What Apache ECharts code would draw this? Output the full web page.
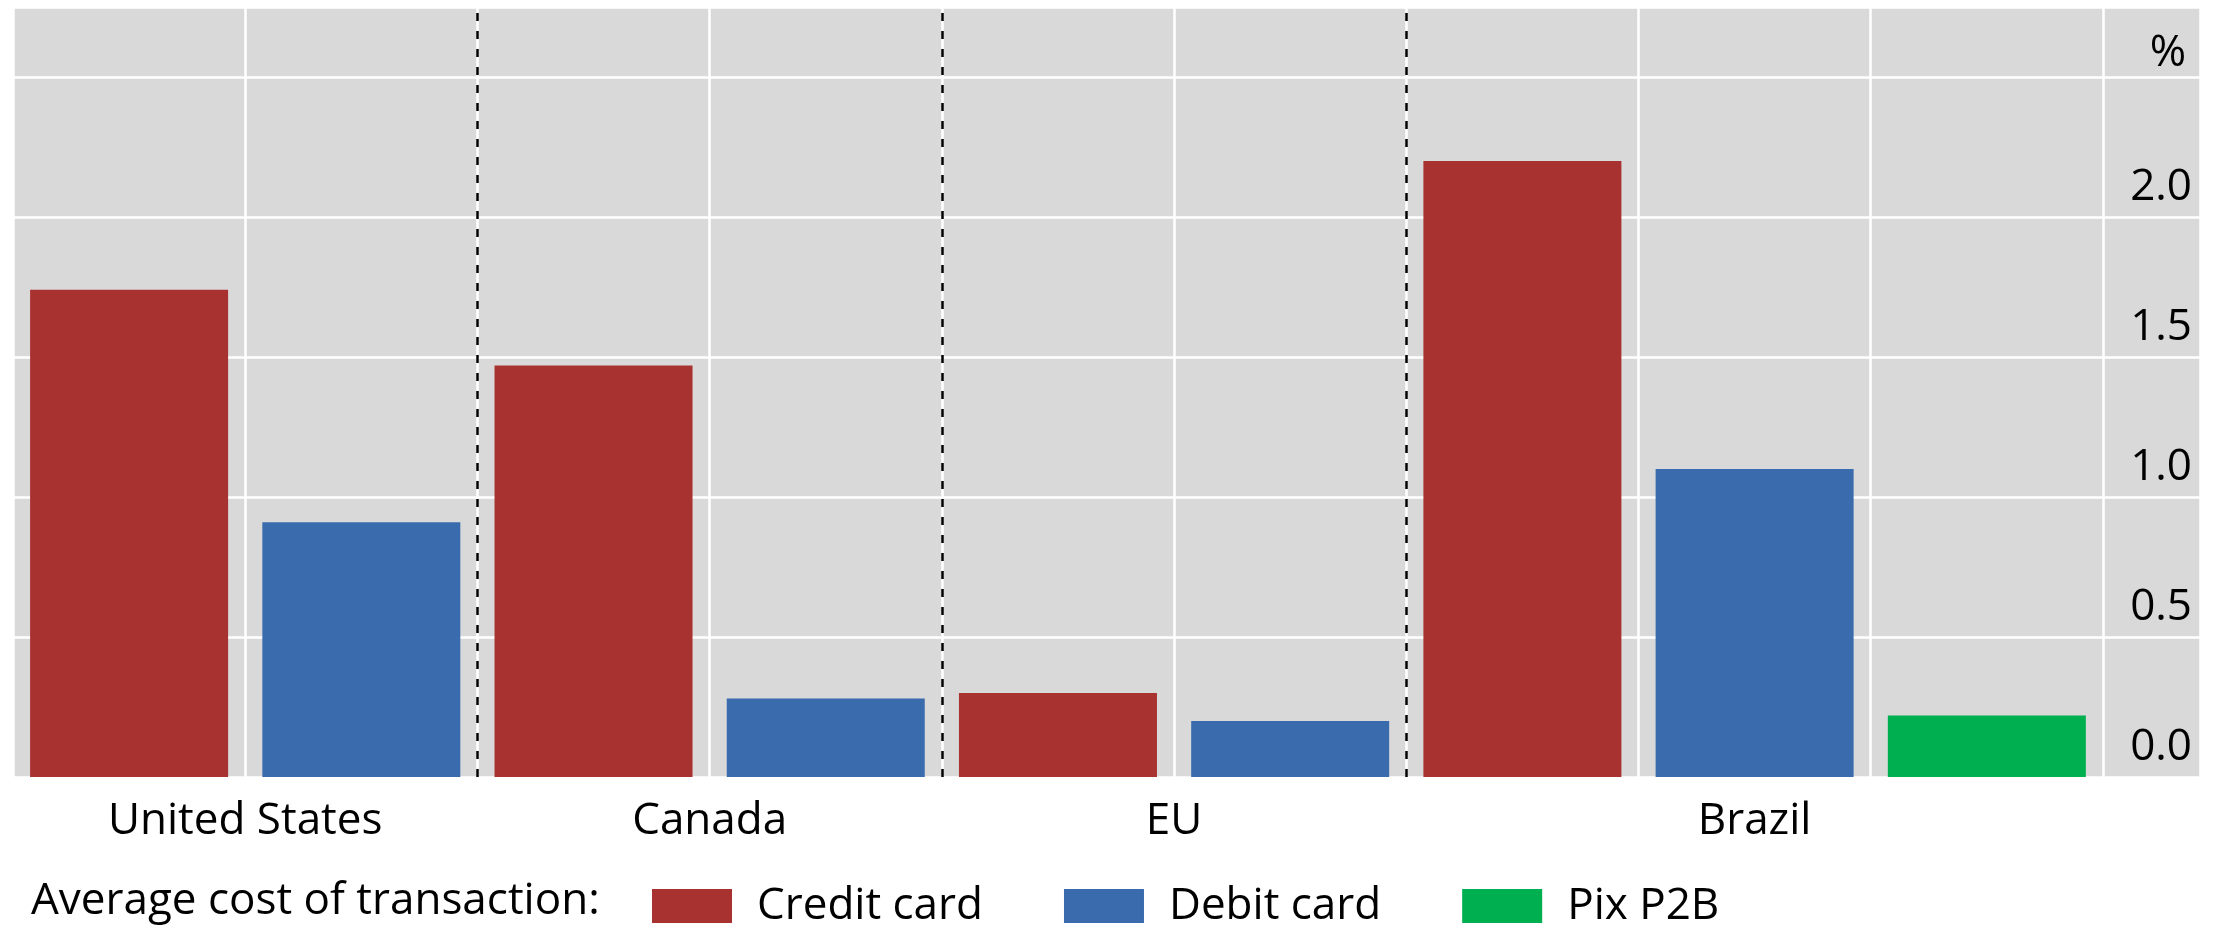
<!DOCTYPE html>
<html>
<head>
<meta charset="utf-8">
<script src="https://cdn.jsdelivr.net/npm/echarts@6/dist/echarts.min.js"></script>
<style>
  html, body { margin: 0; padding: 0; background: #ffffff; }
  #chart { width: 2218px; height: 930px; }
</style>
</head>
<body>
<div id="chart"></div>
<script>
// Average cost of a transaction by payment instrument, per jurisdiction (%)
const countries = ['United States', 'Canada', 'EU', 'Brazil'];
const creditCard = [1.74, 1.47, 0.30, 2.20];
const debitCard = [0.91, 0.28, 0.20, 1.10];
const pixP2B = [null, null, null, 0.22];
const seriesNames = ['Credit card', 'Debit card', 'Pix P2B'];
const yTickLabels = ['0.0', '0.5', '1.0', '1.5', '2.0', '%'];
const legendPrefix = 'Average cost of transaction:';

const FONT = '"Open Sans", "Noto Sans", sans-serif';
const COLORS = ['#A83230', '#3A6BAC', '#00AF50'];

// Lay the bars out in consecutive slots of width 1; each country occupies
// as many slots as it has instruments. Bars sit in the middle of their slot.
const creditData = [];
const debitData = [];
const pixData = [];
const groupCenters = [];
const separators = [];
let slot = 0;
countries.forEach((c, i) => {
  const start = slot;
  [[creditCard, creditData], [debitCard, debitData], [pixP2B, pixData]].forEach(([src, dst]) => {
    if (src[i] != null) {
      dst.push([slot + 0.5, src[i]]);
      slot += 1;
    }
  });
  groupCenters.push((start + slot) / 2);
  if (i < countries.length - 1) separators.push(slot);
});
// extra room on the right for the value labels
const xMax = slot + 0.418;

const chart = echarts.init(document.getElementById('chart'), null, { renderer: 'canvas' });

const labelToken = { color: '#000000', fontFamily: FONT, fontSize: 44 };

const option = {
  backgroundColor: '#ffffff',
  animation: false,
  textStyle: { fontFamily: FONT },
  grid: {
    left: 13, right: 18, top: 7, bottom: 153,
    show: true, backgroundColor: '#D9D9D9', borderWidth: 0
  },
  xAxis: {
    type: 'value',
    min: 0,
    max: xMax,
    interval: 1,
    axisLine: { show: false },
    axisTick: { show: false },
    splitLine: { show: true, lineStyle: { color: '#ffffff', width: 2.5 } },
    axisLabel: {
      customValues: groupCenters,
      formatter: (v) => {
        const idx = groupCenters.findIndex(g => Math.abs(g - v) < 1e-6);
        return idx >= 0 ? countries[idx] : '';
      },
      color: '#000000',
      fontFamily: FONT,
      fontSize: 44,
      lineHeight: 44,
      margin: 22
    }
  },
  yAxis: {
    type: 'value',
    position: 'right',
    min: 0,
    max: 2.75,
    interval: 0.5,
    axisLine: { show: false },
    axisTick: { show: false },
    splitLine: { show: true, lineStyle: { color: '#ffffff', width: 2.5 } },
    axisLabel: {
      inside: true,
      margin: 8,
      color: '#000000',
      fontFamily: FONT,
      fontSize: 44,
      verticalAlign: 'bottom',
      formatter: (v) => {
        const k = Math.round(v / 0.5);
        if (Math.abs(k * 0.5 - v) > 1e-6) return '';
        const t = yTickLabels[k];
        if (t == null) return '';
        return t === '%' ? '{unit|%}' : '{num|' + t + '}';
      },
      rich: {
        num: Object.assign({ lineHeight: 60 }, labelToken),
        unit: Object.assign({ lineHeight: 60, padding: [0, 6, -12, 0] }, labelToken)
      }
    }
  },
  legend: {
    data: seriesNames,
    left: 647,
    top: 879,
    icon: 'rect',
    itemWidth: 80,
    itemHeight: 34,
    itemGap: 81,
    textStyle: {
      color: '#000000',
      fontFamily: FONT,
      fontSize: 44,
      lineHeight: 44,
      padding: [0, 0, 0, 20]
    }
  },
  graphic: [{
    type: 'text',
    x: 31,
    y: 901,
    style: {
      text: legendPrefix,
      fill: '#000000',
      font: '44px ' + FONT,
      verticalAlign: 'middle',
      align: 'left'
    }
  }],
  series: [
    {
      name: seriesNames[0],
      type: 'bar',
      data: creditData,
      barWidth: 198,
      barGap: '-100%',
      itemStyle: { color: COLORS[0] },
      markLine: {
        silent: true,
        symbol: ['none', 'none'],
        label: { show: false },
        lineStyle: { color: '#000000', width: 2.5, type: [8, 10] },
        data: separators.map(s => ({ xAxis: s }))
      }
    },
    {
      name: seriesNames[1],
      type: 'bar',
      data: debitData,
      barWidth: 198,
      barGap: '-100%',
      itemStyle: { color: COLORS[1] }
    },
    {
      name: seriesNames[2],
      type: 'bar',
      data: pixData,
      barWidth: 198,
      barGap: '-100%',
      itemStyle: { color: COLORS[2] }
    }
  ]
};

chart.setOption(option);
</script>
</body>
</html>
